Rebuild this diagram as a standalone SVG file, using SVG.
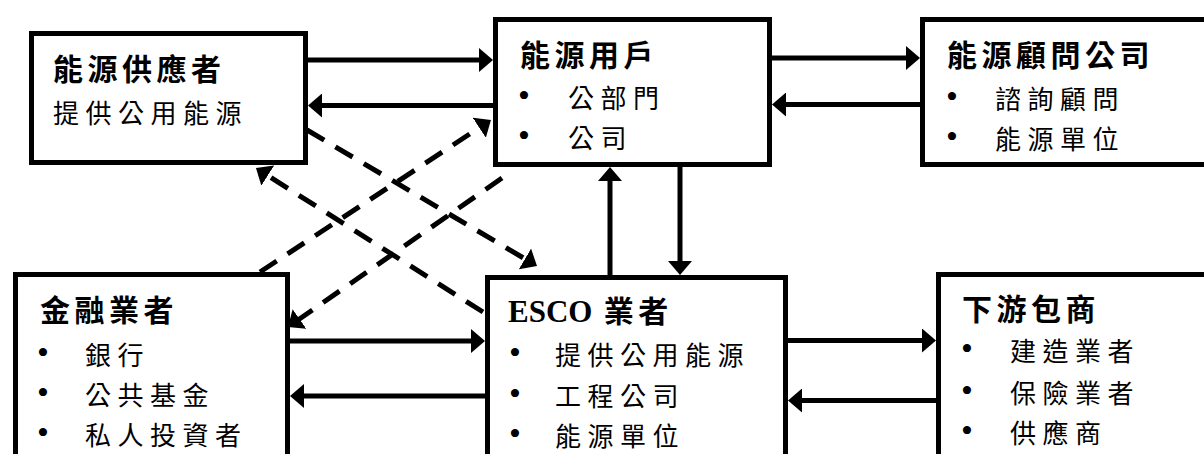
<svg xmlns="http://www.w3.org/2000/svg" width="1204" height="454" viewBox="0 0 1204 454">
<style>
.box{fill:#fff;stroke:#000;stroke-width:5}
.t{font-family:"Noto Sans CJK TC","Noto Sans CJK SC",sans-serif;font-weight:bold;font-size:30px;letter-spacing:4.5px;fill:#000}
.i{font-family:"Noto Sans CJK TC","Noto Sans CJK SC",sans-serif;font-size:26px;letter-spacing:6.5px;fill:#000}
.b{font-family:"Liberation Serif",serif;font-size:34px;fill:#000}
.e{font-family:"Liberation Serif",serif;font-weight:bold;letter-spacing:0px;font-size:31px}
.s{stroke:#000;stroke-width:5;fill:none;marker-end:url(#ah)}
.d{stroke:#000;stroke-width:5;fill:none;stroke-dasharray:20 13;marker-end:url(#ah)}
</style>
<defs>
<marker id="ah" markerUnits="userSpaceOnUse" markerWidth="14" markerHeight="24" viewBox="0 0 14 24" refX="4" refY="12" orient="auto">
<path d="M0,0 L14,12 L0,24 Z" fill="#000"/>
</marker>
</defs>
<rect width="1204" height="454" fill="#fff"/>
<g id="n1">
<rect class="box" x="31.5" y="33.5" width="274" height="129"/>
<text class="t" x="53" y="80">能源供應者</text>
<text class="i" x="53" y="123">提供公用能源</text>
</g>
<g id="n2">
<rect class="box" x="495.5" y="19.5" width="274" height="145"/>
<text class="t" x="520" y="66">能源用戶</text>
<text class="b" x="518" y="107">•</text><text class="i" x="568" y="108">公部門</text>
<text class="b" x="518" y="147">•</text><text class="i" x="568" y="148">公司</text>
</g>
<g id="n3">
<rect class="box" x="922.5" y="19.5" width="300" height="145"/>
<text class="t" x="947" y="66">能源顧問公司</text>
<text class="b" x="946" y="108">•</text><text class="i" x="995" y="109">諮詢顧問</text>
<text class="b" x="946" y="148">•</text><text class="i" x="995" y="149">能源單位</text>
</g>
<g id="n4">
<rect class="box" x="15.5" y="274.5" width="272" height="200"/>
<text class="t" x="40" y="321">金融業者</text>
<text class="b" x="37" y="364">•</text><text class="i" x="85" y="365">銀行</text>
<text class="b" x="37" y="404">•</text><text class="i" x="85" y="405">公共基金</text>
<text class="b" x="37" y="444">•</text><text class="i" x="85" y="445">私人投資者</text>
</g>
<g id="n5">
<rect class="box" x="487.5" y="277.5" width="298" height="200"/>
<text class="t" x="508" y="322"><tspan class="e">ESCO</tspan> 業者</text>
<text class="b" x="509" y="364">•</text><text class="i" x="555" y="365">提供公用能源</text>
<text class="b" x="509" y="405">•</text><text class="i" x="555" y="406">工程公司</text>
<text class="b" x="509" y="445">•</text><text class="i" x="555" y="446">能源單位</text>
</g>
<g id="n6">
<rect class="box" x="938.5" y="274.5" width="300" height="200"/>
<text class="t" x="962" y="320">下游包商</text>
<text class="b" x="961" y="360">•</text><text class="i" x="1010" y="361">建造業者</text>
<text class="b" x="961" y="402">•</text><text class="i" x="1010" y="403">保險業者</text>
<text class="b" x="961" y="442">•</text><text class="i" x="1010" y="443">供應商</text>
</g>
<g id="connectors">
<line class="s" x1="308" y1="60" x2="483" y2="60"/>
<line class="s" x1="493" y1="105.5" x2="318" y2="105.5"/>
<line class="s" x1="772" y1="58" x2="910" y2="58"/>
<line class="s" x1="920" y1="104.5" x2="782" y2="104.5"/>
<line class="s" x1="610" y1="275" x2="610" y2="177"/>
<line class="s" x1="680" y1="167" x2="680" y2="265"/>
<line class="s" x1="290" y1="341" x2="475" y2="341"/>
<line class="s" x1="485" y1="396" x2="300" y2="396"/>
<line class="s" x1="788" y1="340.5" x2="926" y2="340.5"/>
<line class="s" x1="936" y1="400.5" x2="798" y2="400.5"/>
<line class="d" x1="307" y1="130" x2="528.4" y2="260.9"/>
<line class="d" x1="483" y1="312" x2="264.4" y2="173.4"/>
<line class="d" x1="260" y1="272" x2="482.6" y2="125.5"/>
<line class="d" x1="502" y1="178" x2="296.2" y2="321.3"/>
</g>
</svg>
